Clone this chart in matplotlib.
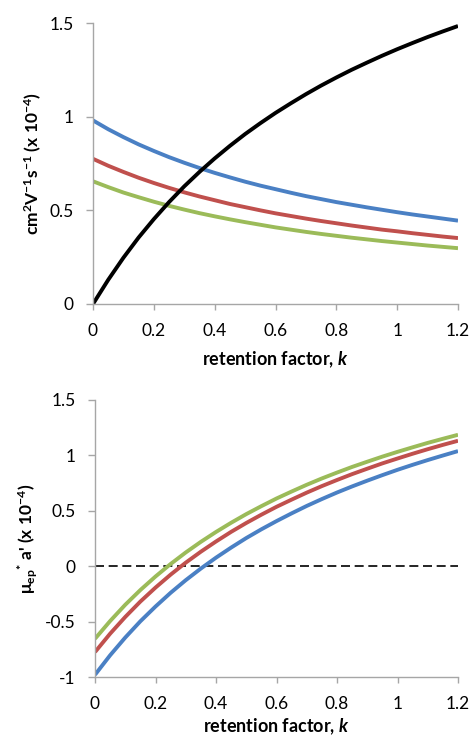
import matplotlib
matplotlib.use("Agg")
import matplotlib.pyplot as plt
import numpy as np

plt.rcParams['font.family'] = ['Lato', 'DejaVu Sans']
plt.rcParams['mathtext.fontset'] = 'custom'
plt.rcParams['mathtext.rm'] = 'Lato'
plt.rcParams['mathtext.bf'] = 'Lato:bold'
plt.rcParams['mathtext.it'] = 'Lato:italic'
plt.rcParams['mathtext.bfit'] = 'Lato:italic:bold'
plt.rcParams['mathtext.default'] = 'bf'

# retention factor k
k = [0.0, 0.05, 0.1, 0.15, 0.2, 0.25, 0.3, 0.35, 0.4, 0.45, 0.5, 0.55, 0.6,
     0.65, 0.7, 0.75, 0.8, 0.85, 0.9, 0.95, 1.0, 1.05, 1.1, 1.15, 1.2]

# top panel series (x 10^-4)
black = [0.0, 0.129, 0.247, 0.355, 0.453, 0.544, 0.628, 0.705, 0.777, 0.844,
         0.907, 0.965, 1.020, 1.071, 1.120, 1.166, 1.209, 1.250, 1.288, 1.325,
         1.360, 1.393, 1.425, 1.455, 1.484]
blue = [0.980, 0.933, 0.891, 0.852, 0.817, 0.784, 0.754, 0.726, 0.700, 0.676,
        0.653, 0.632, 0.613, 0.594, 0.576, 0.560, 0.544, 0.530, 0.516, 0.503,
        0.490, 0.478, 0.467, 0.456, 0.445]
red = [0.775, 0.738, 0.705, 0.674, 0.646, 0.620, 0.596, 0.574, 0.554, 0.534,
       0.517, 0.500, 0.484, 0.470, 0.456, 0.443, 0.431, 0.419, 0.408, 0.397,
       0.388, 0.378, 0.369, 0.360, 0.352]
green = [0.655, 0.624, 0.595, 0.570, 0.546, 0.524, 0.504, 0.485, 0.468, 0.452,
         0.437, 0.423, 0.409, 0.397, 0.385, 0.374, 0.364, 0.354, 0.345, 0.336,
         0.328, 0.320, 0.312, 0.305, 0.298]

xticks = [0, 0.2, 0.4, 0.6, 0.8, 1.0, 1.2]
xticklabels = ["0", "0.2", "0.4", "0.6", "0.8", "1", "1.2"]
yticks_top = [0, 0.5, 1.0, 1.5]
yticklabels_top = ["0", "0.5", "1", "1.5"]
yticks_bot = [-1, -0.5, 0, 0.5, 1.0, 1.5]
yticklabels_bot = ["-1", "-0.5", "0", "0.5", "1", "1.5"]

C_BLUE = "#4A80C4"
C_RED = "#C0504D"
C_GREEN = "#9BBB59"
LW = 2.8
GRAY = "#A6A6A6"
FS_TICK = 12.5
FS_XLAB = 13
FS_YLAB = 12.5

fig = plt.figure(figsize=(4.74, 7.37), dpi=100)
ax1 = fig.add_axes([93/474, 1-304/737, 365/474, 281/737])
ax2 = fig.add_axes([95/474, 1-677/737, 363/474, 277/737])

def style(ax, xlabelpad):
    for s in ("top", "right"):
        ax.spines[s].set_visible(False)
    for s in ("left", "bottom"):
        ax.spines[s].set_color(GRAY)
        ax.spines[s].set_linewidth(1.0)
    ax.tick_params(axis="x", colors=GRAY, labelcolor="black", labelsize=FS_TICK,
                   length=4, width=1.0, direction="out", pad=10)
    ax.tick_params(axis="y", colors=GRAY, labelcolor="black", labelsize=FS_TICK,
                   length=5, width=1.0, direction="out", pad=9)
    ax.set_xlim(0, 1.2)
    ax.set_xticks(xticks)
    ax.set_xticklabels(xticklabels)
    ax.set_xlabel(r"retention factor, $\mathbfit{k}$", fontsize=FS_XLAB,
                  fontweight="bold", labelpad=xlabelpad)

kk = np.array(k)
b = np.array(black)

ax1.plot(kk, blue, color=C_BLUE, lw=LW, solid_capstyle="butt")
ax1.plot(kk, red, color=C_RED, lw=LW, solid_capstyle="butt")
ax1.plot(kk, green, color=C_GREEN, lw=LW, solid_capstyle="butt")
ax1.plot(kk, black, color="black", lw=LW, solid_capstyle="butt")
style(ax1, 7)
ax1.set_ylim(0, 1.5)
ax1.set_yticks(yticks_top)
ax1.set_yticklabels(yticklabels_top)
ax1.set_ylabel(r"cm$^2$V$^{-1}$s$^{-1}$ (x 10$^{-4}$)", fontsize=FS_YLAB,
               fontweight="bold", labelpad=4)

ax2.axhline(0, color="black", lw=1.2, ls=(0, (5.4, 2.8)))
ax2.plot(kk, b - np.array(blue), color=C_BLUE, lw=LW, solid_capstyle="butt")
ax2.plot(kk, b - np.array(red), color=C_RED, lw=LW, solid_capstyle="butt")
ax2.plot(kk, b - np.array(green), color=C_GREEN, lw=LW, solid_capstyle="butt")
style(ax2, 3)
ax2.set_ylim(-1, 1.5)
ax2.set_yticks(yticks_bot)
ax2.set_yticklabels(yticklabels_bot)
ax2.set_ylabel("\u03bc" + r"$_{ep}{}^{*}$ a' (x 10$^{-4}$)", fontsize=FS_YLAB,
               fontweight="bold", labelpad=4)

fig.savefig("out.png", dpi=100)
